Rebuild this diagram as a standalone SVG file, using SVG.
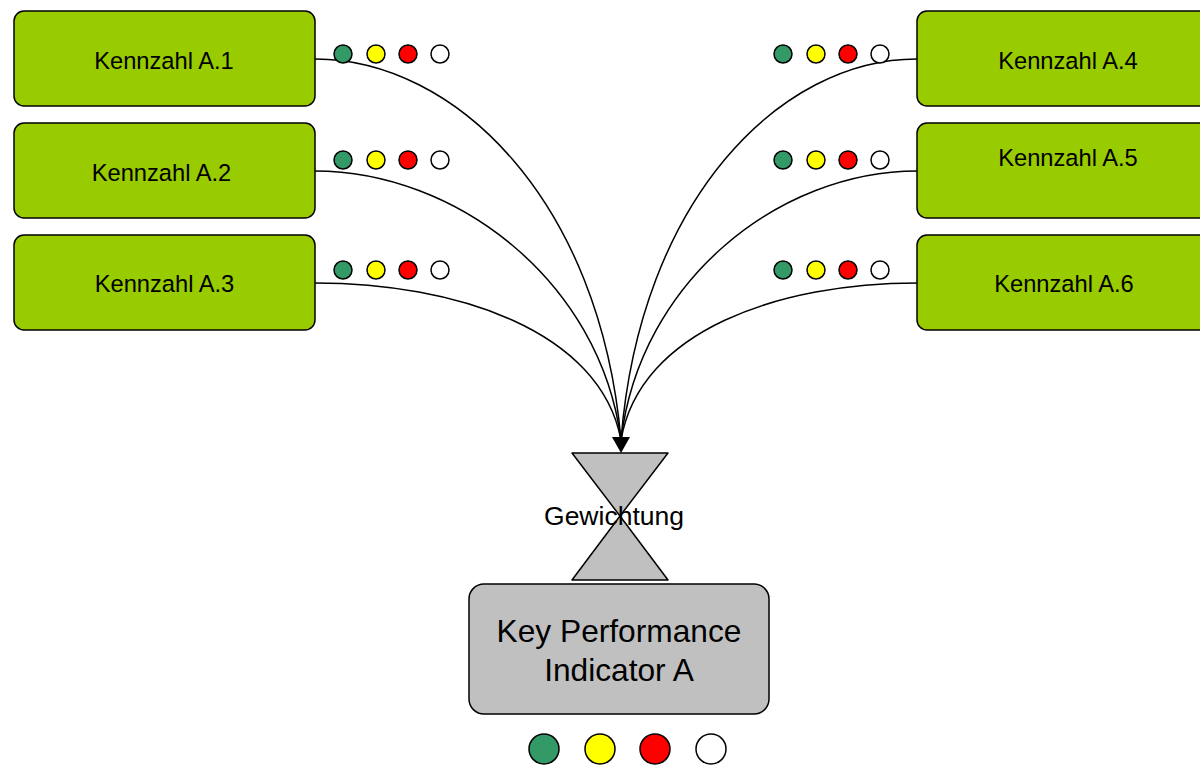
<svg xmlns="http://www.w3.org/2000/svg" width="1200" height="765" viewBox="0 0 1200 765">
  <style>
    .kz rect { fill: #99CC00; stroke: #000; stroke-width: 1.5; }
    .kz text { font-family: "Liberation Sans", Arial, sans-serif; font-size: 23.7px; fill: #000; text-anchor: middle; }
    .lbl { font-family: "Liberation Sans", Arial, sans-serif; font-size: 26.5px; fill: #000; text-anchor: middle; }
    .kpi rect { fill: #C0C0C0; stroke: #000; stroke-width: 1.5; }
    .kpi text { font-family: "Liberation Sans", Arial, sans-serif; font-size: 31.7px; fill: #000; text-anchor: middle; }
    .g { fill: #339966; stroke: #000; stroke-width: 1.5; }
    .y { fill: #FFFF00; stroke: #000; stroke-width: 1.5; }
    .r { fill: #FF0000; stroke: #000; stroke-width: 1.5; }
    .w { fill: #FFFFFF; stroke: #000; stroke-width: 1.5; }
    .conn path { fill: none; stroke: #000; stroke-width: 1.5; }
    .conn .head { fill: #000; stroke: none; }
  </style>
  <defs>
    <g id="lamps">
      <circle class="g" cx="0" cy="0" r="9"/>
      <circle class="y" cx="33" cy="0" r="9"/>
      <circle class="r" cx="65" cy="0" r="9"/>
      <circle class="w" cx="97" cy="0" r="9"/>
    </g>
  </defs>

  <!-- connectors: six curves merging into one arrowhead -->
  <g id="connectors" class="conn">
    <path d="M315,59 C455,59 600,200 621,440"/>
    <path d="M315,171 C455,171 600,280 621,440"/>
    <path d="M315,283 C455,283 600,330 621,440"/>
    <path d="M917,59 C780,59 640,200 621,440"/>
    <path d="M917,171 C780,171 640,280 621,440"/>
    <path d="M917,283 C780,283 640,330 621,440"/>
    <path class="head" d="M612,437 L630,437 L621,453 z"/>
  </g>

  <!-- indicator lamps beside each figure -->
  <use href="#lamps" x="343" y="54"/>
  <use href="#lamps" x="343" y="160"/>
  <use href="#lamps" x="343" y="270"/>
  <use href="#lamps" x="783" y="54"/>
  <use href="#lamps" x="783" y="160"/>
  <use href="#lamps" x="783" y="270"/>

  <g id="kennzahl-a1" class="kz">
    <rect x="14" y="11" width="301" height="95" rx="10"/>
    <text x="164" y="69">Kennzahl A.1</text>
  </g>
  <g id="kennzahl-a2" class="kz">
    <rect x="14" y="123" width="301" height="95" rx="10"/>
    <text x="161.5" y="181">Kennzahl A.2</text>
  </g>
  <g id="kennzahl-a3" class="kz">
    <rect x="14" y="235" width="301" height="95" rx="10"/>
    <text x="164.5" y="292">Kennzahl A.3</text>
  </g>
  <g id="kennzahl-a4" class="kz">
    <rect x="917" y="11" width="300" height="95" rx="10"/>
    <text x="1068" y="69">Kennzahl A.4</text>
  </g>
  <g id="kennzahl-a5" class="kz">
    <rect x="917" y="123" width="300" height="95" rx="10"/>
    <text x="1068" y="166">Kennzahl A.5</text>
  </g>
  <g id="kennzahl-a6" class="kz">
    <rect x="917" y="235" width="300" height="95" rx="10"/>
    <text x="1064" y="292">Kennzahl A.6</text>
  </g>

  <!-- weighting hourglass -->
  <g id="gewichtung">
    <polygon points="572,453 668,453 620,516" fill="#C0C0C0" stroke="#000" stroke-width="1.5" stroke-linejoin="round"/>
    <polygon points="620,516 668,580 572,580" fill="#C0C0C0" stroke="#000" stroke-width="1.5" stroke-linejoin="round"/>
    <text class="lbl" x="614" y="525">Gewichtung</text>
  </g>

  <g id="kpi-a" class="kpi">
    <rect x="469" y="584" width="300" height="130" rx="15"/>
    <text x="619" y="642">Key Performance</text>
    <text x="619" y="681">Indicator A</text>
  </g>

  <g id="kpi-lamps">
    <circle class="g" cx="544" cy="749" r="15"/>
    <circle class="y" cx="600" cy="749" r="15"/>
    <circle class="r" cx="655" cy="749" r="15"/>
    <circle class="w" cx="711" cy="749" r="15"/>
  </g>
</svg>
